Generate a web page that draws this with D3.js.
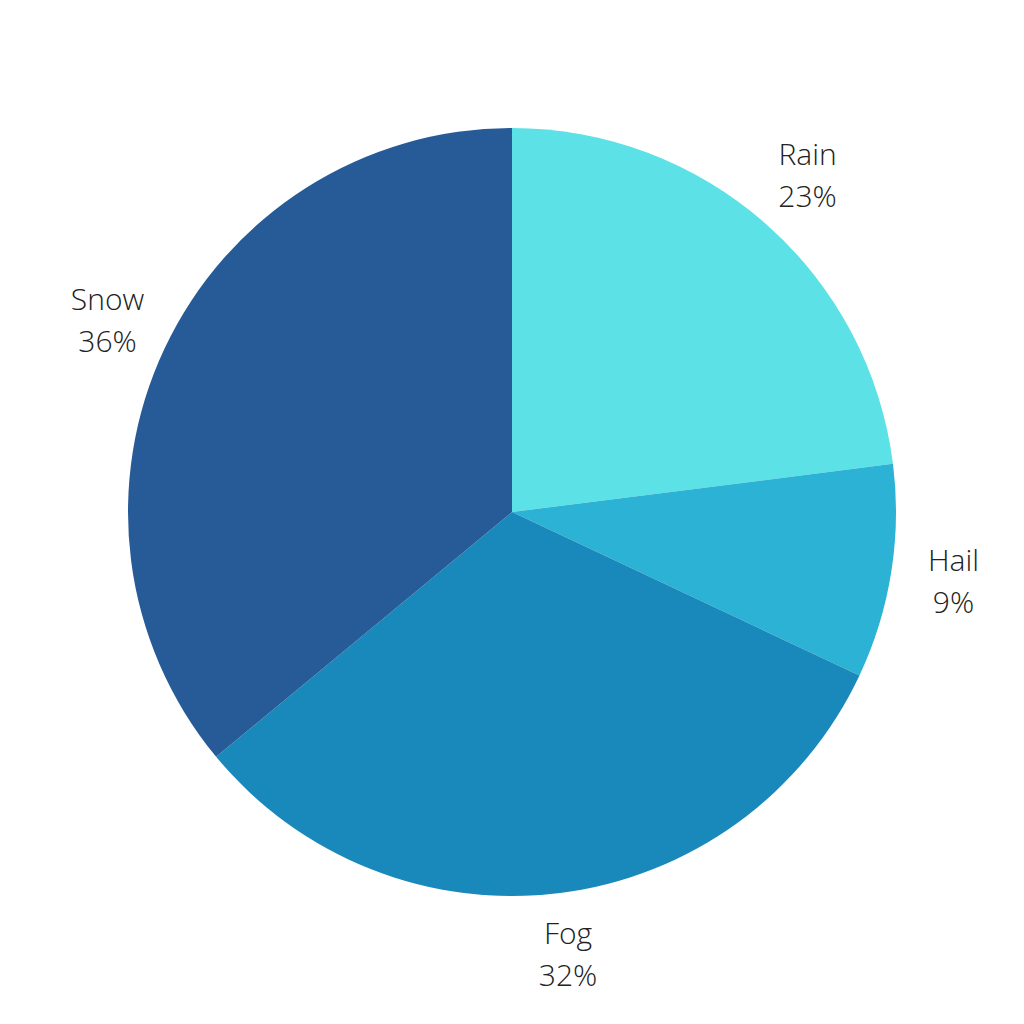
<!DOCTYPE html>
<html><head><meta charset="utf-8">
<script src="https://cdn.jsdelivr.net/npm/d3@7/dist/d3.min.js"></script>
<style>html,body{margin:0;padding:0;background:#fff;}</style>
</head><body>
<svg id="chart" width="1024" height="1024"></svg>
<script>
const categories = ["Rain", "Hail", "Fog", "Snow"];
const values = [23, 9, 32, 36];
const colors = ["#5CE1E6", "#2CB2D4", "#1988BA", "#265B98"];

const svg = d3.select("#chart");
const cx = 512, cy = 512, R = 384, labelR = 447;
const g = svg.append("g").attr("transform", `translate(${cx},${cy})`);
const data = categories.map((c, i) => ({name: c, value: values[i], color: colors[i]}));
const pie = d3.pie().value(d => d.value).sort(null);
const arcs = pie(data);
const arc = d3.arc().innerRadius(0).outerRadius(R);
const labelArc = d3.arc().innerRadius(labelR).outerRadius(labelR);
const total = d3.sum(values);

g.selectAll("path").data(arcs).join("path")
  .attr("d", arc).attr("fill", d => d.data.color);

const lab = g.selectAll("text").data(arcs).join("text")
  .attr("transform", d => `translate(${labelArc.centroid(d)})`)
  .attr("text-anchor", "middle")
  .style("font-family", "'Open Sans', sans-serif")
  .style("font-weight", 300)
  .style("font-size", "30px")
  .attr("fill", "#222");
lab.append("tspan").attr("x", 0).attr("dy", "-0.38em").text(d => d.data.name);
lab.append("tspan").attr("x", 0).attr("dy", "1.4em").text(d => Math.round(d.data.value / total * 100) + "%");
</script>
</body></html>
